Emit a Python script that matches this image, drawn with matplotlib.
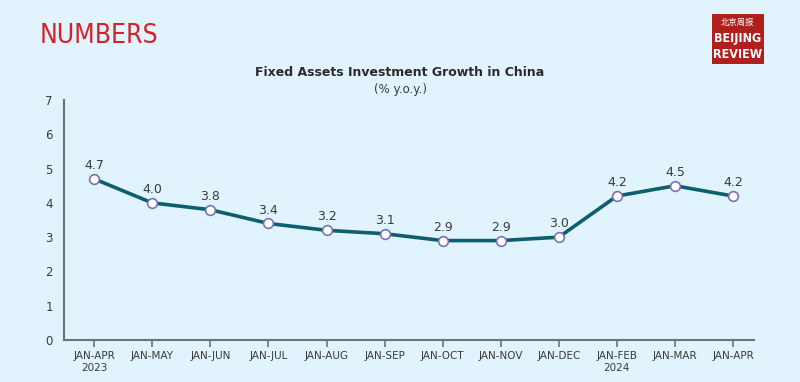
import matplotlib
matplotlib.use("Agg")
import matplotlib.pyplot as plt
from matplotlib.patches import Rectangle

categories = ["JAN-APR\n2023", "JAN-MAY", "JAN-JUN", "JAN-JUL", "JAN-AUG", "JAN-SEP",
              "JAN-OCT", "JAN-NOV", "JAN-DEC", "JAN-FEB\n2024", "JAN-MAR", "JAN-APR"]
values = [4.7, 4.0, 3.8, 3.4, 3.2, 3.1, 2.9, 2.9, 3.0, 4.2, 4.5, 4.2]
yticks = [0, 1, 2, 3, 4, 5, 6, 7]

BG = "#e1f3fc"
LINE = "#0d5f6d"
AX = "#6b7378"
TXT = "#3a3a3a"

fig = plt.figure(figsize=(8, 3.82), dpi=100, facecolor=BG)
ax = fig.add_axes([0.08, 0.110, 0.8625, 0.628], facecolor=BG)

x = list(range(len(values)))
ax.plot(x, values, color=LINE, lw=2.6, zorder=2, solid_capstyle="round")
ax.plot(x, values, ls="none", marker="o", ms=7, mfc="white", mec="#7a72b8", mew=1.2, zorder=3)
for xi, v in zip(x, values):
    ax.annotate(f"{v:.1f}", (xi, v), xytext=(0, 5), textcoords="offset points",
                ha="center", va="bottom", fontsize=9, color=TXT)

ax.set_xlim(-0.52, 11.36)
ax.set_ylim(0, 7)
ax.set_yticks(yticks)
ax.set_yticklabels([str(t) for t in yticks])
ax.set_xticks(x)
ax.set_xticklabels(categories)
for s in ["top", "right"]:
    ax.spines[s].set_visible(False)
for s in ["left", "bottom"]:
    ax.spines[s].set_color(AX)
    ax.spines[s].set_linewidth(1.5)
ax.tick_params(axis="y", length=0, pad=8, labelsize=8.5, labelcolor=TXT)
ax.tick_params(axis="x", length=5, width=1.2, color=AX, direction="out", pad=3,
               labelsize=7.5, labelcolor=TXT)
for lbl in ax.get_xticklabels():
    lbl.set_linespacing(1.3)

fig.text(0.5, 0.81, "Fixed Assets Investment Growth in China", ha="center", va="center",
         fontsize=9, fontweight="bold", color="#2a2a2a")
fig.text(0.5, 0.765, "(% y.o.y.)", ha="center", va="center", fontsize=8.5, color=TXT)

fig.text(0.050, 0.907, "NUMBERS", ha="left", va="center", fontsize=19,
         color="#d3222a", family="DejaVu Sans", fontstretch="condensed")

# logo
lx0, ly0, lw, lh = 712/800, 1 - 64/382, 52/800, 50/382
fig.patches.append(Rectangle((lx0, ly0), lw, lh, transform=fig.transFigure,
                             facecolor="#b01f1c", edgecolor="none"))
fig.text(lx0 + lw/2, ly0 + lh*0.84, "北京周报", ha="center", va="center", fontsize=6,
         color="white", family=["Noto Sans CJK SC", "DejaVu Sans"])
fig.text(lx0 + lw/2, ly0 + lh*0.50, "BEIJING", ha="center", va="center", fontsize=9,
         color="white", fontweight="bold", family="DejaVu Sans", fontstretch="condensed")
fig.text(lx0 + lw/2, ly0 + lh*0.19, "REVIEW", ha="center", va="center", fontsize=9,
         color="white", fontweight="bold", family="DejaVu Sans", fontstretch="condensed")

fig.savefig("out.png", dpi=100, facecolor=BG)
